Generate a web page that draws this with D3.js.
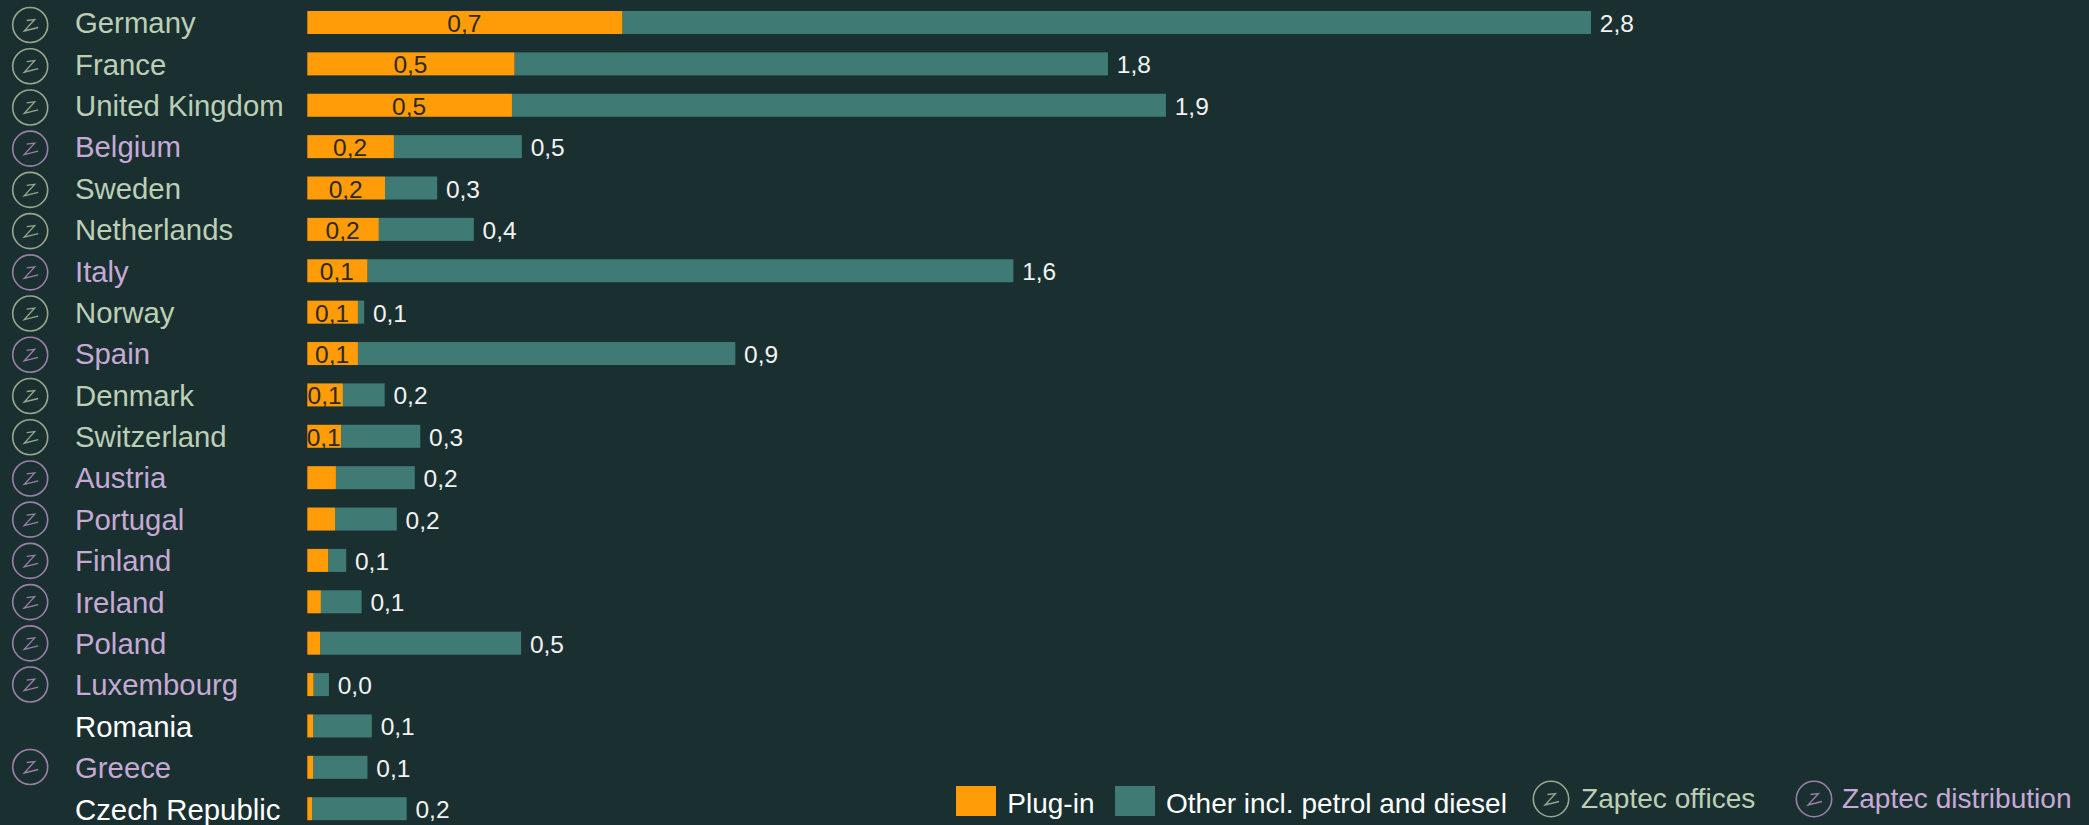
<!DOCTYPE html>
<html>
<head>
<meta charset="utf-8">
<script src="https://cdn.jsdelivr.net/npm/d3@7"></script>
<style>
html,body{margin:0;padding:0;background:#1a3030;overflow:hidden}
svg{display:block;font-family:"Liberation Sans",Arial,sans-serif}
</style>
</head>
<body>
<svg id="chart" width="2089" height="825"></svg>
<script>
const countries = ["Germany","France","United Kingdom","Belgium","Sweden","Netherlands","Italy","Norway","Spain","Denmark","Switzerland","Austria","Portugal","Finland","Ireland","Poland","Luxembourg","Romania","Greece","Czech Republic"];
// Bar lengths (chart units)
const plugInLength = [.859,.565,.558,.236,.212,.195,.164,.138,.138,.097,.092,.078,.076,.057,.037,.035,.017,.016,.016,.013];
const otherLength  = [2.641,1.618,1.783,.349,.142,.259,1.761,.017,1.029,.114,.216,.215,.168,.049,.111,.548,.042,.160,.148,.258];
// Printed labels as they appear in the picture
const plugInLabels = ["0,7","0,5","0,5","0,2","0,2","0,2","0,1","0,1","0,1","0,1","0,1","","","","","","","","",""];
const otherLabels  = ["2,8","1,8","1,9","0,5","0,3","0,4","1,6","0,1","0,9","0,2","0,3","0,2","0,2","0,1","0,1","0,5","0,0","0,1","0,1","0,2"];
const presence = ["o","o","o","d","o","o","d","o","d","o","o","d","d","d","d","d","d","n","d","n"];
const legendBars = ["Plug-in","Other incl. petrol and diesel"];
const legendIcons = ["Zaptec offices","Zaptec distribution"];

const BG="#1a3030", ORANGE="#ff9c08", TEAL="#3f7a75";
const textColor={o:"#bccfb6",d:"#c6a9d6",n:"#ffffff"};
const ringColor={o:"#98a68c",d:"#9c7fa8"};
const zMark="M-3.5,-4.5L4.5,-5.5L-6,6L8,2.5";

const svg=d3.select("#chart");
svg.append("rect").attr("width",2089).attr("height",825).attr("fill",BG);

const x=d3.scaleLinear().domain([0,3.5]).range([307.3,1591]);
const y=d3.scaleBand().domain(countries).range([1.8,829.4]).paddingInner(.444).paddingOuter(.222);
const iconY=d3.scaleLinear().domain([0,18]).range([25,767]);

const rows=countries.map((c,i)=>({c,i,p:plugInLength[i],o:otherLength[i],pl:plugInLabels[i],ol:otherLabels[i],t:presence[i]}));

function icon(g,kind,r){
  g.append("circle").attr("r",r).attr("fill","none").attr("stroke",ringColor[kind]).attr("stroke-width",1.6);
  g.append("path").attr("d",zMark).attr("fill","none").attr("stroke",ringColor[kind]).attr("stroke-width",1.3);
}

// icons
rows.filter(d=>d.t!=="n").forEach(d=>{
  icon(svg.append("g").attr("transform",`translate(30.2,${iconY(d.i)})`),d.t,17.5);
});

// axis with country labels
const axis=svg.append("g").attr("transform","translate(306,0)").call(d3.axisLeft(y).tickSize(0).tickSizeOuter(0));
axis.select(".domain").attr("stroke","#232a2a").attr("stroke-width",2);
axis.selectAll(".tick text")
  .attr("x",-231).attr("dy",null).attr("y",10.8)
  .attr("text-anchor","start")
  .style("font-size","29.33px").style("font-family",'"Liberation Sans",Arial,sans-serif')
  .attr("fill",(d,i)=>textColor[presence[i]]);

// bars
svg.append("g").selectAll("rect").data(rows).join("rect")
  .attr("x",d=>x(d.p)).attr("y",d=>y(d.c)).attr("width",d=>x(d.p+d.o)-x(d.p)).attr("height",y.bandwidth())
  .attr("fill",TEAL);
svg.append("g").selectAll("rect").data(rows).join("rect")
  .attr("x",x(0)).attr("y",d=>y(d.c)).attr("width",d=>x(d.p)-x(0)).attr("height",y.bandwidth())
  .attr("fill",ORANGE);

// value labels
svg.append("g").selectAll("text").data(rows.filter(d=>d.pl)).join("text")
  .attr("x",d=>(x(0)+x(d.p))/2-0.5).attr("y",d=>y(d.c)+y.bandwidth()/2+9.5)
  .attr("text-anchor","middle").attr("font-size",24.5).attr("fill","#2a2a22").text(d=>d.pl);
svg.append("g").selectAll("text").data(rows).join("text")
  .attr("x",d=>x(d.p+d.o)+8.8).attr("y",d=>y(d.c)+y.bandwidth()/2+9.5)
  .attr("font-size",24.5).attr("fill","#f2f2f2").text(d=>d.ol);

// legend
const lg=svg.append("g");
[[956,ORANGE,1007.3],[1115,TEAL,1166]].forEach((s,i)=>{
  lg.append("rect").attr("x",s[0]).attr("y",786).attr("width",40).attr("height",30).attr("fill",s[1]);
  lg.append("text").attr("x",s[2]).attr("y",813).attr("font-size",28).attr("fill","#ffffff").text(legendBars[i]);
});
[[1551,"o",1581],[1814,"d",1842]].forEach((s,i)=>{
  icon(lg.append("g").attr("transform",`translate(${s[0]},799)`),s[1],17.7);
  lg.append("text").attr("x",s[2]).attr("y",808).attr("font-size",28.1).attr("fill",textColor[s[1]]).text(legendIcons[i]);
});
</script>
</body>
</html>
